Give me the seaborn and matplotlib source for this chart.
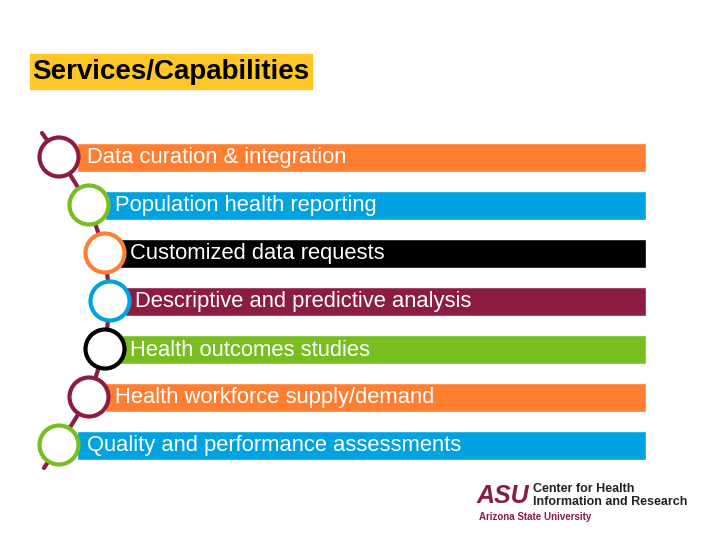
import matplotlib
matplotlib.use("Agg")
import matplotlib.pyplot as plt
import seaborn as sns
import pandas as pd
from matplotlib.patches import Circle, Rectangle

sns.set_theme(style="white")

items = ["Data curation & integration", "Population health reporting", "Customized data requests",
         "Descriptive and predictive analysis", "Health outcomes studies",
         "Health workforce supply/demand", "Quality and performance assessments"]
bar_left = [77, 105, 120, 125, 120, 105, 77]
bar_right = [646] * 7
bar_colors = ["#FF7F32", "#00A3E0", "#000000", "#8C1D40", "#78BE20", "#FF7F32", "#00A3E0"]
circle_x = [59, 89, 105, 110, 105, 89, 59]
circle_colors = ["#8C1D40", "#78BE20", "#FF7F32", "#00A3E0", "#000000", "#8C1D40", "#78BE20"]

fig = plt.figure(figsize=(7.2, 5.4), dpi=100)
ax = fig.add_axes([0, 0, 1, 1])
ax.set_xlim(0, 720)
ax.set_ylim(540, 0)
ax.axis("off")

ys = [157 + 48 * i for i in range(len(items))]
df = pd.DataFrame({"item": items, "left": bar_left, "right": bar_right, "y": ys})

ax.plot([42] + circle_x + [44], [133] + ys + [468], color="#8C1D40", lw=3, zorder=1,
        solid_capstyle="round")

ax.barh(df["y"], df["right"] - df["left"], left=df["left"], height=29,
        color=bar_colors, zorder=2)
for i, r in df.iterrows():
    ax.add_patch(Circle((circle_x[i], r["y"]), 19.5, facecolor="white",
                        edgecolor=circle_colors[i], lw=3, zorder=3))
    ax.text(r["left"] + 10, r["y"] + 1, r["item"], color="white", fontsize=15.8,
            va="center", ha="left", fontfamily="Liberation Sans", zorder=4)

ax.add_patch(Rectangle((30, 54), 282, 35, color="#FFC627", zorder=1))
ax.text(32, 72, "Services/Capabilities", fontsize=20, fontweight="bold", va="center",
        ha="left", color="black", fontfamily="Liberation Sans")

ax.text(477, 496, "ASU", fontsize=18, fontweight="heavy", color="#8C1D40",
        va="center", ha="left", fontfamily="Liberation Sans", style="italic")
ax.text(533, 489, "Center for Health", fontsize=9, fontweight="bold", va="center",
        ha="left", fontfamily="Liberation Sans", color="#222222")
ax.text(533, 502, "Information and Research", fontsize=9, fontweight="bold", va="center",
        ha="left", fontfamily="Liberation Sans", color="#222222")
ax.text(479, 517, "Arizona State University", fontsize=7, fontweight="bold", va="center",
        ha="left", fontfamily="Liberation Sans", color="#8C1D40")

fig.savefig("out.png", dpi=100)
